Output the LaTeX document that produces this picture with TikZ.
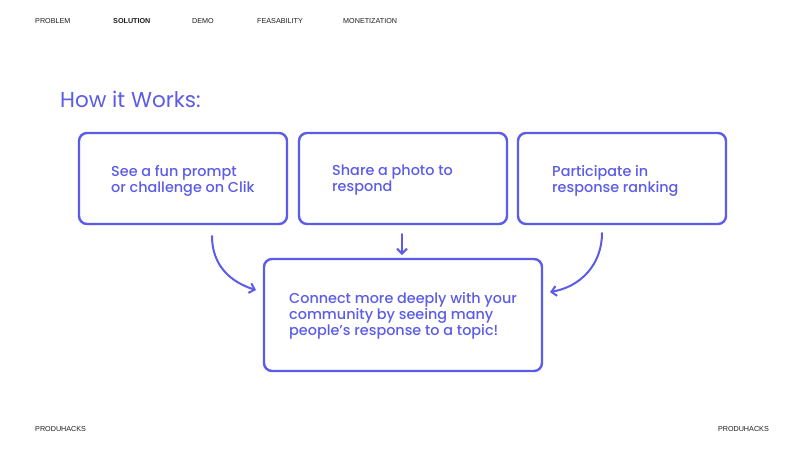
\documentclass[tikz,border=0pt]{standalone}
\usepackage{fontspec}
\setmainfont{Poppins}
\newfontfamily\navfont{Liberation Sans}
\newfontfamily\medfont{Poppins Medium}
\usetikzlibrary{arrows.meta}
\definecolor{accent}{RGB}{92,92,232}
\definecolor{navtext}{RGB}{30,30,30}
\tikzset{
  card/.style={draw=accent, line width=2.4pt, rounded corners=8pt},
  cardtext/.style={anchor=west, align=left, inner sep=0pt, text=accent, font=\medfont\fontsize{14.4}{16}\selectfont},
  nav/.style={anchor=west, inner sep=0pt, text=navtext, font=\navfont\fontsize{7.2}{8}\selectfont},
  flow/.style={draw=accent, line width=2pt, line cap=round, -{Straight Barb[length=5pt,width=10pt,line width=2pt]}}
}
\begin{document}
\begin{tikzpicture}[x=1pt,y=-1pt]
\useasboundingbox[fill=white] (0,0) rectangle (806,453);
% nav
\node[nav] (n1) at (35,21) {PROBLEM};
\node[nav, font=\navfont\bfseries\fontsize{7.2}{8}\selectfont] (n2) at (113,21) {SOLUTION};
\node[nav] (n3) at (192,21) {DEMO};
\node[nav] (n4) at (257,21) {FEASABILITY};
\node[nav] (n5) at (343,21) {MONETIZATION};
\node[nav] (f1) at (35,429) {PRODUHACKS};
\node[nav, anchor=east] (f2) at (769,429) {PRODUHACKS};
% title
\node[anchor=west, inner sep=0pt, text=accent, font=\fontsize{21.5}{24}\selectfont] (title) at (60,99) {How it Works:};
% boxes
\draw[card] (79,133) rectangle (287,224);
\draw[card] (299,133) rectangle (507,224);
\draw[card] (518,133) rectangle (726,224);
\draw[card] (264,259) rectangle (542,371);
\node[cardtext] (t1) at (111,180.5) {See a fun prompt\\or challenge on Clik};
\node[cardtext] (t2) at (332,180.5) {Share a photo to\\respond};
\node[cardtext] (t3) at (552,180.5) {Participate in\\response ranking};
\node[cardtext] (t4) at (289,316) {Connect more deeply with your\\community by seeing many\\people’s response to a topic!};
% arrows
\coordinate (a1s) at (212,236);
\coordinate (a1e) at (256,290);
\coordinate (a2s) at (402,234);
\coordinate (a2e) at (402,255);
\coordinate (a3s) at (602,233);
\coordinate (a3e) at (550,292);
\draw[flow] (a1s) .. controls (212,265) and (230,282) .. (a1e);
\draw[flow] (a2s) -- (a2e);
\draw[flow] (a3s) .. controls (602,265) and (580,287) .. (a3e);
\end{tikzpicture}
\end{document}
